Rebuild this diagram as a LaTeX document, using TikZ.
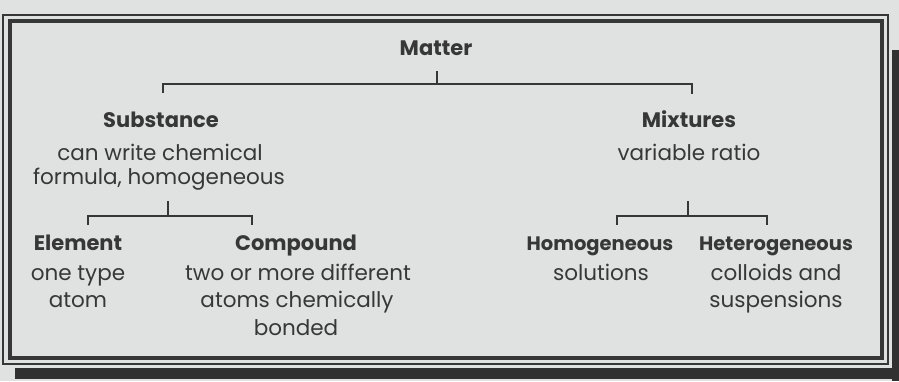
\documentclass[tikz,border=0pt]{standalone}
\usepackage{fontspec}
\setmainfont{Poppins}
\definecolor{paper}{RGB}{223,226,224}
\definecolor{ink}{RGB}{55,55,55}
\tikzset{
  title/.style={font=\fontsize{21}{24}\selectfont\bfseries, text=ink, inner sep=0pt, text height=0.75em, text depth=0.2em, yshift=-4pt},
  narrowtitle/.style={title, font=\fontsize{19.5}{24}\selectfont\bfseries},
  desc/.style={font=\fontsize{21.5}{24}\selectfont, text=ink, inner sep=0pt, text height=0.75em, text depth=0.2em, yshift=-3pt},
  tree/.style={draw=ink, line width=2pt},
  frame/.style={draw=ink, line width=3.5pt},
  thin/.style={draw=ink, line width=1.2pt},
  shadow/.style={fill=ink!90!black}
}
\begin{document}
\begin{tikzpicture}[x=1pt,y=-1pt]
\useasboundingbox[fill=paper] (0,0) rectangle (899,381);
% frame
\fill[shadow] (892,50) rectangle (899,381);
\fill[shadow] (15,368) rectangle (899,379);
\draw[thin] (3,15) rectangle (888,364);
\draw[frame] (10,21) rectangle (882,358);
% nodes
\node[title] (matter) at (436,49) {Matter};
\node[title] (sub) at (161,121) {Substance};
\node[desc] (sub1) at (160,155) {can write chemical};
\node[desc] (sub2) at (159,179) {formula, homogeneous};
\node[title] (mix) at (689,121) {Mixtures};
\node[desc] (mix1) at (689,155) {variable ratio};
\node[title] (elem) at (78,244) {Element};
\node[desc] (elem1) at (78,275) {one type};
\node[desc] (elem2) at (78,302) {atom};
\node[title] (comp) at (296,244) {Compound};
\node[desc] (comp1) at (298,275) {two or more different};
\node[desc] (comp2) at (297,302) {atoms chemically};
\node[desc] (comp3) at (296,330) {bonded};
\node[narrowtitle] (homo) at (600,244) {Homogeneous};
\node[desc] (homo1) at (601,275) {solutions};
\node[narrowtitle] (hetero) at (776,244) {Heterogeneous};
\node[desc] (hetero1) at (776,275) {colloids and};
\node[desc] (hetero2) at (776,302) {suspensions};
% coordinates for brackets
\coordinate (m0) at (437,71);
\coordinate (m1) at (437,84);
\coordinate (mL) at (163,84);
\coordinate (mR) at (692,84);
\coordinate (mLd) at (163,93);
\coordinate (mRd) at (692,94);
\coordinate (s0) at (168,201);
\coordinate (s1) at (168,216);
\coordinate (sL) at (88,216);
\coordinate (sR) at (252,216);
\coordinate (sLd) at (88,225);
\coordinate (sRd) at (252,225);
\coordinate (x0) at (688,201);
\coordinate (x1) at (688,216);
\coordinate (xL) at (617,216);
\coordinate (xR) at (767,216);
\coordinate (xLd) at (617,225);
\coordinate (xRd) at (767,225);
\draw[tree] (m0) -- (m1);
\draw[tree] (mLd) -- (mL) -- (mR) -- (mRd);
\draw[tree] (s0) -- (s1);
\draw[tree] (sLd) -- (sL) -- (sR) -- (sRd);
\draw[tree] (x0) -- (x1);
\draw[tree] (xLd) -- (xL) -- (xR) -- (xRd);
\end{tikzpicture}
\end{document}
